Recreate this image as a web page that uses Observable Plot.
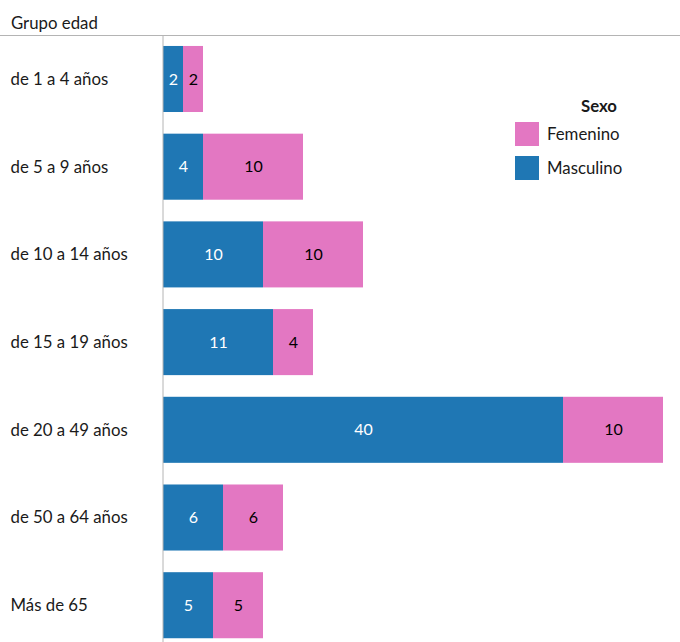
<!DOCTYPE html>
<html>
<head>
<meta charset="utf-8">
<script src="https://cdn.jsdelivr.net/npm/d3@7"></script>
<script src="https://cdn.jsdelivr.net/npm/@observablehq/plot@0.6"></script>
<style>
  html, body { margin: 0; padding: 0; background: #fff; }
  body { font-family: Lato, "Noto Sans", sans-serif; width: 680px; position: relative; }
  #header { height: 36px; border-bottom: 1px solid #b4b4b4; box-sizing: border-box; position: relative; }
  #header span { position: absolute; left: 11px; top: 12px; font-size: 16.8px; color: #1a1a1a; }
  #legend { position: absolute; left: 515px; top: 95px; font-size: 16.8px; color: #1a1a1a; }
  #legend .title { position: absolute; left: 0; width: 168px; text-align: center; top: 0; font-weight: bold; white-space: nowrap; }
  #legend .item { position: absolute; left: 0; white-space: nowrap; height: 24px; line-height: 24px; }
  #legend .sw { display: inline-block; width: 24px; height: 24px; vertical-align: top; }
  #legend .lab { display: inline-block; margin-left: 8px; vertical-align: top; }
  #chart svg { display: block; }
</style>
</head>
<body>
<div id="header"><span>Grupo edad</span></div>
<div id="chart"></div>
<div id="legend"></div>
<script>
const groups = ["de 1 a 4 años", "de 5 a 9 años", "de 10 a 14 años", "de 15 a 19 años", "de 20 a 49 años", "de 50 a 64 años", "Más de 65"];
const sexes = ["Masculino", "Femenino"];
const masculino = [2, 4, 10, 11, 40, 6, 5];
const femenino = [2, 10, 10, 4, 10, 6, 5];
const sexColors = {Masculino: "#1f77b4", Femenino: "#e377c2"};
const labelColors = {Masculino: "#ffffff", Femenino: "#000000"};
const legendOrder = ["Femenino", "Masculino"];

const data = [];
groups.forEach((g, i) => {
  data.push({group: g, sex: "Masculino", value: masculino[i]});
  data.push({group: g, sex: "Femenino", value: femenino[i]});
});

const stackOpts = {x: "value", y: "group", z: "sex", order: sexes};

const chart = Plot.plot({
  width: 680,
  height: 606,
  marginLeft: 163,
  marginRight: 17,
  marginTop: 0,
  marginBottom: 0,
  style: {fontFamily: "Lato, 'Noto Sans', sans-serif", fontSize: "16px", background: "#fff"},
  x: {domain: [0, 50], axis: null},
  y: {domain: groups, axis: null, range: [-11.7, 623.9], padding: 0.247, round: false},
  color: {type: "identity"},
  marks: [
    Plot.barX(data, Plot.stackX({...stackOpts, fill: d => sexColors[d.sex]})),
    Plot.text(data, Plot.stackX({...stackOpts, text: d => String(d.value), fill: d => labelColors[d.sex], fontSize: 16})),
    Plot.text(groups, {y: d => d, text: d => d, frameAnchor: "left", textAnchor: "start", dx: -153, fill: "#1a1a1a", fontSize: 16.8}),
    Plot.ruleX([0], {stroke: "#b4b4b4", strokeWidth: 1, dx: -0.5})
  ]
});
document.getElementById("chart").appendChild(chart);

const legend = document.getElementById("legend");
const t = document.createElement("div");
t.className = "title"; t.textContent = "Sexo"; legend.appendChild(t);
legendOrder.forEach((s, i) => {
  const it = document.createElement("div");
  it.className = "item";
  it.style.top = (27 + i * 34) + "px";
  it.innerHTML = `<span class="sw" style="background:${sexColors[s]}"></span><span class="lab">${s}</span>`;
  legend.appendChild(it);
});
</script>
</body>
</html>
